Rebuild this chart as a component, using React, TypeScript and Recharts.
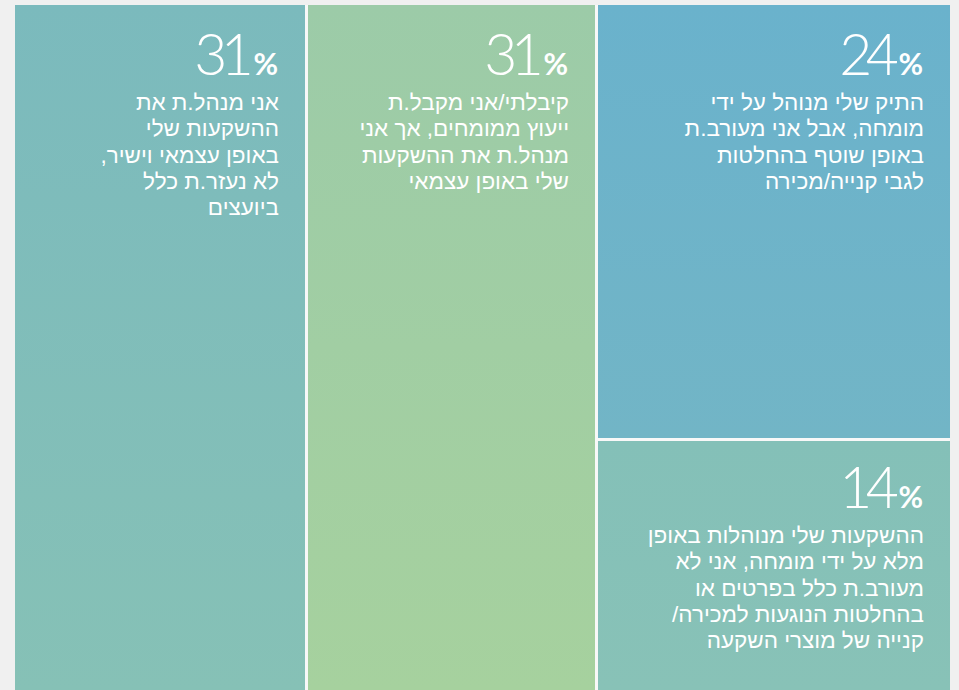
import React from 'react';
import { Treemap } from 'recharts';

const categories = ['self', 'advised', 'shared', 'managed'];
const values = [31, 31, 24, 14];
const descriptions: string[][] = [
  ['אני מנהל.ת את', 'ההשקעות שלי', 'באופן עצמאי וישיר,', 'לא נעזר.ת כלל', 'ביועצים'],
  ['קיבלתי/אני מקבל.ת', 'ייעוץ ממומחים, אך אני', 'מנהל.ת את ההשקעות', 'שלי באופן עצמאי'],
  ['התיק שלי מנוהל על ידי', 'מומחה, אבל אני מעורב.ת', 'באופן שוטף בהחלטות', 'לגבי קנייה/מכירה'],
  ['ההשקעות שלי מנוהלות באופן', 'מלא על ידי מומחה, אני לא', 'מעורב.ת כלל בפרטים או', 'בהחלטות הנוגעות למכירה/', 'קנייה של מוצרי השקעה'],
];

const palette: [string, string][] = [
  ['#7bbabd', '#86c1b6'],
  ['#9ccba8', '#a6d19e'],
  ['#6ab2cc', '#72b5c6'],
  ['#84c0b8', '#88c2b7'],
];

const leaf = (i: number) => ({ name: categories[i], value: values[i], idx: i });
const treeData = [
  leaf(0),
  { name: 'rest', children: [leaf(1), { name: 'group', children: [leaf(2), leaf(3)] }] },
];

const GAP = 3;
const CHART_W = 935;
const CHART_H = 685;

const CellContent = (props: any) => {
  const { x, y, width, height, depth, idx } = props;
  if (depth === 0) {
    return <rect x={x} y={y} width={width} height={height} fill="#f8f8f8" />;
  }
  if (idx === undefined || idx === null) return <g />;
  const gx = x > 0.5 ? GAP : 0;
  const gy = y > 0.5 ? GAP : 0;
  const right = x + width - 27;
  const gid = `cellGrad${idx}`;
  const [c1, c2] = palette[idx];
  return (
    <g>
      <defs>
        <linearGradient id={gid} x1="0" y1="0" x2="0" y2="1">
          <stop offset="0%" stopColor={c1} />
          <stop offset="100%" stopColor={c2} />
        </linearGradient>
      </defs>
      <rect x={x + gx} y={y + gy} width={width - gx} height={height - gy} fill={`url(#${gid})`} stroke="none" />
      <text
        x={right}
        y={y + 70}
        textAnchor="end"
        fill="#ffffff"
        fontFamily="Lato, 'Open Sans', sans-serif"
      >
        <tspan fontSize={57} fontWeight={300} letterSpacing={-6.5}>{values[idx]}</tspan>
        <tspan fontSize={30} fontWeight={700} dx={6}>%</tspan>
      </text>
      {descriptions[idx].map((line, k) => (
        <text
          key={k}
          x={right + 1}
          y={y + 105 + k * 26.3}
          direction="rtl"
          textAnchor="start"
          fill="#ffffff"
          fontSize={22.5}
          fontFamily="'Liberation Sans', 'Open Sans', sans-serif"
        >
          {line}
        </text>
      ))}
    </g>
  );
};

export default function App() {
  return (
    <div
      style={{
        position: 'fixed',
        left: 0,
        top: 0,
        width: 959,
        height: 690,
        overflow: 'hidden',
        background: '#f0f0f0',
      }}
    >
      <div style={{ position: 'absolute', left: 15, top: 5 }}>
        <Treemap
          width={CHART_W}
          height={CHART_H}
          data={treeData}
          dataKey="value"
          aspectRatio={1.2}
          isAnimationActive={false}
          content={<CellContent />}
        />
      </div>
    </div>
  );
}
